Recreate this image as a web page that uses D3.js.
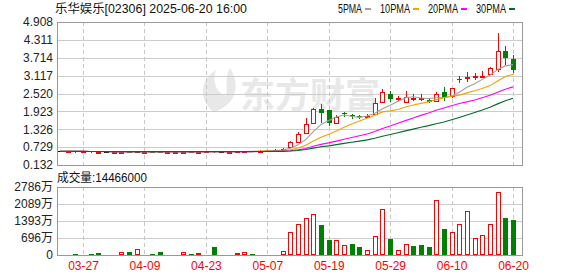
<!DOCTYPE html>
<html>
<head>
<meta charset="utf-8">
<script src="https://cdn.jsdelivr.net/npm/d3@7"></script>
<style>
  body { margin: 0; background: #fff; }
  svg { display: block; }
  text { font-family: "Liberation Sans", Arial, "Noto Sans CJK SC", sans-serif; font-size: 12px; }
</style>
</head>
<body>
<svg id="chart" width="578" height="276"></svg>
<script>
// ---- data ----
const stockName = "乐华娱乐[02306] 2025-06-20 16:00";

const dates = [
  "03-24","03-25","03-26","03-27","03-28","03-31","04-01","04-02","04-03","04-07",
  "04-08","04-09","04-10","04-11","04-14","04-15","04-16","04-17","04-22","04-23",
  "04-24","04-25","04-28","04-29","04-30","05-02","05-06","05-07","05-08","05-09",
  "05-12","05-13","05-14","05-15","05-16","05-19","05-20","05-21","05-22","05-23",
  "05-26","05-27","05-28","05-29","05-30","06-02","06-03","06-04","06-05","06-06",
  "06-09","06-10","06-11","06-12","06-13","06-16","06-17","06-18","06-19","06-20"
];

const opens = [
  0.590, 0.585, 0.590, 0.580, 0.585, 0.565, 0.570, 0.570, 0.575, 0.580,
  0.575, 0.575, 0.580, 0.575, 0.565, 0.570, 0.575, 0.580, 0.575, 0.585,
  0.600, 0.580, 0.575, 0.580, 0.585, 0.605, 0.590, 0.620, 0.635, 0.630,
  0.72, 0.91, 1.19, 1.52, 1.99, 1.97, 1.52, 1.86, 1.80, 1.76,
  1.76, 1.83, 2.25, 2.50, 2.355, 2.23, 2.37, 2.37, 2.31, 2.27,
  2.56, 2.44, 3.01, 3.07, 3.07, 3.08, 3.16, 3.33, 3.94, 3.67
];
const highs = [
  0.595, 0.595, 0.595, 0.590, 0.590, 0.575, 0.575, 0.600, 0.600, 0.585,
  0.595, 0.585, 0.585, 0.580, 0.575, 0.580, 0.585, 0.585, 0.600, 0.605,
  0.605, 0.585, 0.585, 0.590, 0.610, 0.610, 0.620, 0.645, 0.655, 0.700,
  0.94, 1.22, 1.69, 2.03, 2.17, 1.97, 1.80, 1.91, 1.82, 1.80,
  1.83, 2.36, 2.66, 2.62, 2.44, 2.60, 2.50, 2.50, 2.36, 2.57,
  2.74, 2.70, 3.11, 3.25, 3.22, 3.27, 3.40, 4.55, 4.12, 3.81
];
const lows = [
  0.585, 0.580, 0.580, 0.575, 0.570, 0.560, 0.565, 0.565, 0.570, 0.570,
  0.565, 0.570, 0.570, 0.565, 0.560, 0.565, 0.570, 0.570, 0.570, 0.580,
  0.575, 0.575, 0.570, 0.575, 0.580, 0.585, 0.585, 0.610, 0.615, 0.625,
  0.70, 0.90, 1.19, 1.52, 1.58, 1.47, 1.50, 1.77, 1.70, 1.70,
  1.74, 1.79, 2.24, 2.26, 2.28, 2.22, 2.27, 2.27, 2.22, 2.25,
  2.30, 2.38, 2.89, 2.89, 2.98, 3.03, 3.14, 3.25, 3.50, 3.25
];
const closes = [
  0.590, 0.590, 0.585, 0.585, 0.575, 0.570, 0.570, 0.575, 0.580, 0.575,
  0.575, 0.580, 0.575, 0.570, 0.570, 0.575, 0.580, 0.575, 0.580, 0.600,
  0.580, 0.580, 0.580, 0.585, 0.600, 0.590, 0.605, 0.640, 0.645, 0.680,
  0.89, 1.17, 1.50, 2.00, 1.88, 1.55, 1.75, 1.83, 1.76, 1.72,
  1.78, 2.21, 2.58, 2.34, 2.36, 2.39, 2.385, 2.38, 2.25, 2.49,
  2.38, 2.70, 2.99, 3.08, 3.09, 3.10, 3.38, 3.94, 3.70, 3.30
];

// volume in 万 (ten thousand shares)
const volumes = [
  40, 40, 50, 40, 50, 70, 40, 40, 110, 110,
  233, 40, 50, 110, 40, 40, 110, 50, 70, 40,
  315, 40, 40, 70, 110, 50, 40, 40, 40, 150,
  960, 1287, 1532, 1696, 1217, 631, 631, 426, 438, 315,
  221, 795, 1901, 643, 221, 467, 356, 397, 315, 2270,
  1053, 959, 1258, 1819, 713, 836, 1258, 2598, 1504, 1446.6
];

const priceTicks = ["0.132", "0.729", "1.326", "1.923", "2.520", "3.117", "3.714", "4.311", "4.908"];
const volTicks = [0, 696.5, 1393, 2089.5, 2786];
const dateTicks = ["03-27", "04-09", "04-23", "05-07", "05-19", "05-29", "06-10", "06-20"];
const maPeriods = [5, 10, 20, 30];

// ---- styles ----
const RED = "#ff0000", GREEN = "#008000";
const maColors = { 5: "#a0a0a0", 10: "#f5a300", 20: "#ff00ff", 30: "#006b2d" };
const L = 57, R = 522;
const P = { top: 22, bottom: 165 };
const V = { top: 187, bottom: 255 };

const svg = d3.select("#chart");

const x = d3.scalePoint(dates, [60, 513]);
const y = d3.scaleLinear([+priceTicks[0], +priceTicks[priceTicks.length - 1]], [P.bottom, P.top]);
const vy = d3.scaleLinear([0, volTicks[volTicks.length - 1]], [V.bottom, V.top]);

// half-width char metric like the original bitmap font
const textW = s => Array.from(s).reduce((w, c) => w + (c.charCodeAt(0) > 255 ? 12 : 6), 0);

// watermark
const wm = svg.append("g").attr("fill", "#e8e8e8");
wm.append("path")
  .attr("d", "M214,112 C198,100 200,80 216,70 C212,82 216,92 226,96 C228,86 224,78 230,68 C240,84 238,104 214,112 Z");
wm.append("text").attr("x", 240).attr("y", 108)
  .style("font-family", "'Noto Sans CJK SC', sans-serif").style("font-size", "35px").style("font-weight", 700)
  .text("东方财富");

// horizontal grid
svg.append("g").selectAll("line").data(priceTicks.slice(1, -1)).join("line")
  .attr("x1", L).attr("x2", R)
  .attr("y1", d => Math.round(y(+d)) + 0.5).attr("y2", d => Math.round(y(+d)) + 0.5)
  .attr("stroke", "#cccccc");
svg.append("g").selectAll("line").data(volTicks.slice(1, -1)).join("line")
  .attr("x1", L).attr("x2", R)
  .attr("y1", d => Math.round(vy(d)) + 0.5).attr("y2", d => Math.round(vy(d)) + 0.5)
  .attr("stroke", "#cccccc");

// vertical dashed grid
const vg = svg.append("g").attr("stroke", "#c8c8c8").attr("stroke-dasharray", "4,3");
[[P.top, P.bottom], [V.top, V.bottom]].forEach(([a, b]) => {
  vg.append("g").selectAll("line").data(dateTicks).join("line")
    .attr("x1", d => Math.round(x(d)) + 0.5).attr("x2", d => Math.round(x(d)) + 0.5)
    .attr("y1", a).attr("y2", b);
});

// candles
const cg = svg.append("g");
dates.forEach((d, i) => {
  const o = opens[i], c = closes[i];
  const col = c > o ? RED : c < o ? GREEN : "#000";
  const cx = Math.round(x(d)) + 0.5;
  const yt = Math.round(y(Math.max(o, c))), yb = Math.round(y(Math.min(o, c)));
  const yh = Math.round(y(highs[i])), yl = Math.round(y(lows[i]));
  if (c > o) {
    cg.append("line").attr("x1", cx).attr("x2", cx).attr("y1", yh).attr("y2", yt).attr("stroke", col);
    cg.append("line").attr("x1", cx).attr("x2", cx).attr("y1", yb + 1).attr("y2", yl).attr("stroke", col);
    cg.append("rect").attr("x", cx - 2).attr("y", yt + 0.5).attr("width", 4).attr("height", Math.max(yb - yt, 1))
      .attr("fill", "#fff").attr("stroke", col);
  } else {
    cg.append("line").attr("x1", cx).attr("x2", cx).attr("y1", yh).attr("y2", yl + 1).attr("stroke", col);
    cg.append("rect").attr("x", cx - 2.5).attr("y", yt).attr("width", 5).attr("height", Math.max(yb - yt, 1))
      .attr("fill", col);
  }
});

// moving averages
const line = d3.line().x((v, i) => x(dates[i])).y(v => y(v));
maPeriods.forEach(p => {
  const ma = closes.map((c, i) => d3.mean(closes.slice(Math.max(0, i - p + 1), i + 1)));
  svg.append("path").attr("d", line(ma)).attr("fill", "none")
    .attr("stroke", maColors[p]).attr("stroke-width", 1.1);
});

// volume bars
const vgBars = svg.append("g");
dates.forEach((d, i) => {
  const up = i === 0 || closes[i] >= closes[i - 1];
  const cx = Math.round(x(d)) + 0.5;
  const top = Math.round(vy(volumes[i]));
  const h = Math.max(V.bottom - top, 1);
  if (up) {
    vgBars.append("rect").attr("x", cx - 2).attr("y", V.bottom - h + 0.5).attr("width", 4).attr("height", Math.max(h - 1, 0))
      .attr("fill", "#fff").attr("stroke", RED);
  } else {
    vgBars.append("rect").attr("x", cx - 2.5).attr("y", V.bottom - h).attr("width", 5).attr("height", h)
      .attr("fill", GREEN);
  }
});

// frames
[[P.top, P.bottom], [V.top, V.bottom]].forEach(([a, b]) => {
  svg.append("rect").attr("x", L + 0.5).attr("y", a + 0.5).attr("width", R - L).attr("height", b - a)
    .attr("fill", "none").attr("stroke", "#999");
});

// axes
const py = svg.append("g").attr("transform", `translate(${L},0)`)
  .call(d3.axisLeft(y).tickValues(priceTicks.map(Number)).tickFormat((d, i) => priceTicks[i]).tickSize(0).tickPadding(4));
const vya = svg.append("g").attr("transform", `translate(${L},0)`)
  .call(d3.axisLeft(vy).tickValues(volTicks).tickFormat(d => d === 0 ? "0" : Math.floor(d) + "万").tickSize(0).tickPadding(4));
const xa = svg.append("g").attr("transform", `translate(0,${V.bottom})`)
  .call(d3.axisBottom(x).tickValues(dateTicks).tickSize(0).tickPadding(6));
[py, vya, xa].forEach(g => {
  g.select(".domain").remove();
  g.selectAll("text").style("font-size", "12px").attr("font-family", null);
});
py.selectAll("text").attr("fill", "#222");
vya.selectAll("text").attr("fill", "#222");
xa.selectAll("text").attr("fill", RED);

// title
svg.append("text").attr("x", 55).attr("y", 13).attr("fill", "#111")
  .attr("textLength", textW(stockName)).attr("lengthAdjust", "spacingAndGlyphs")
  .text(stockName);

// volume label
const volLabel = "成交量:" + Math.round(volumes[volumes.length - 1] * 10000);
svg.append("text").attr("x", 57).attr("y", 182).attr("fill", "#111")
  .attr("textLength", textW(volLabel)).attr("lengthAdjust", "spacingAndGlyphs")
  .text(volLabel);

// legend
let lx = 338;
const lg = svg.append("g");
maPeriods.forEach(p => {
  const t = p + "PMA";
  lg.append("text").attr("x", lx).attr("y", 13).attr("fill", "#111")
    .attr("textLength", textW(t)).attr("lengthAdjust", "spacingAndGlyphs").text(t);
  lx += textW(t) + 3;
  lg.append("rect").attr("x", lx).attr("y", 8).attr("width", 6).attr("height", 2).attr("fill", maColors[p]);
  lx += 6 + 9;
});
</script>
</body>
</html>
